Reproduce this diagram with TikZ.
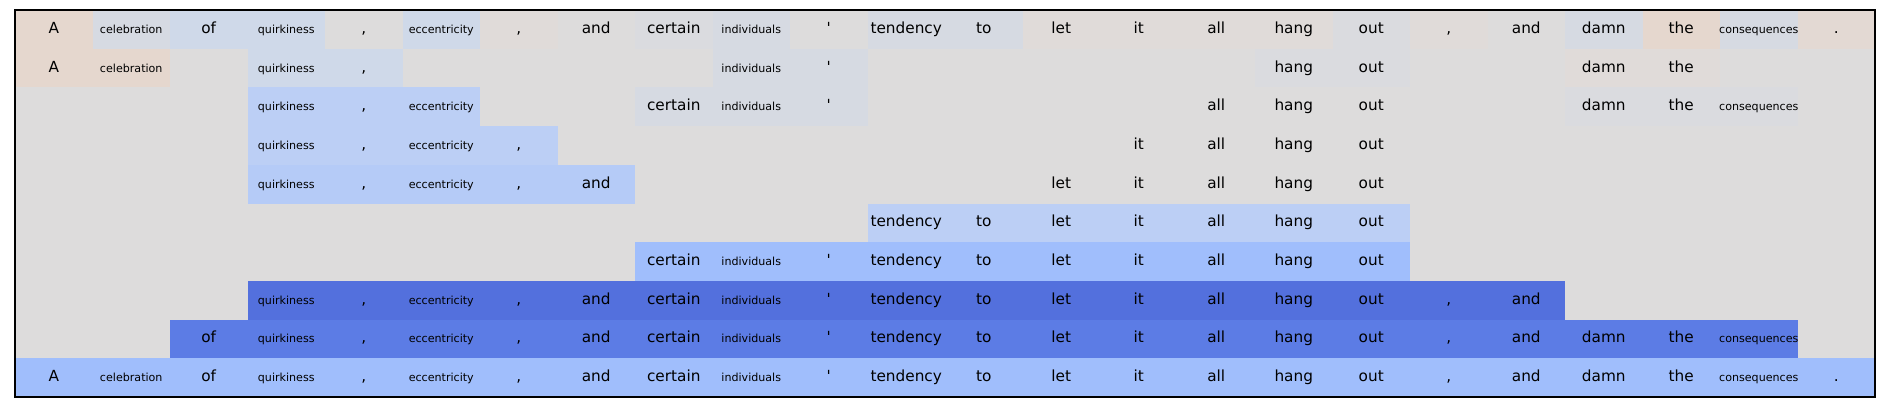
\documentclass[tikz,border=0pt]{standalone}
\usepackage{fontspec}
\usepackage{xcolor}
\newfontfamily\wordfont{DejaVu Sans}[Ligatures=TeXOff]
\definecolor{warmA}{RGB}{229,215,206}
\definecolor{warmB}{RGB}{227,217,211}
\definecolor{warmC}{RGB}{224,219,217}
\definecolor{neutral}{RGB}{221,220,220}
\definecolor{coolA}{RGB}{218,219,223}
\definecolor{coolB}{RGB}{214,218,226}
\definecolor{coolC}{RGB}{207,217,233}
\definecolor{coolD}{RGB}{188,207,245}
\definecolor{coolE}{RGB}{181,203,247}
\definecolor{coolF}{RGB}{160,190,252}
\definecolor{deepA}{RGB}{92,124,229}
\definecolor{deepB}{RGB}{83,112,221}
\newcommand\sm{\fontsize{11.1bp}{13bp}\selectfont}
\newcommand\tok[1]{\ifcase#1 A\or{\sm celebration}\or of\or{\sm quirkiness}\or,\or{\sm eccentricity}\or,\or and\or certain\or{\sm individuals}\or'\or tendency\or to\or let\or it\or all\or hang\or out\or,\or and\or damn\or the\or{\sm consequences}\or.\fi}
\tikzset{word/.style={font=\wordfont\fontsize{15.3bp}{18bp}\selectfont, inner sep=0pt, text height=11.6bp, text depth=3.6bp}}

\begin{document}
\begin{tikzpicture}[x=77.5bp, y=-38.7bp]
\useasboundingbox (-0.19355,-0.2584) rectangle (24.1161,10.3876);
\def\grid{(0,0) rectangle (24,10)}

\fill[neutral] \grid;
\foreach \r/\a/\b/\col in {0/0/0/warmA, 0/1/1/coolB, 0/2/3/coolC, 0/5/5/coolC, 0/6/6/warmC,
  0/8/8/coolA, 0/9/9/coolB, 0/11/12/coolB, 0/13/16/warmC, 0/17/17/coolA, 0/18/18/warmC,
  0/20/20/coolB, 0/21/21/warmA, 0/22/22/coolB, 0/23/23/warmB,
  1/0/1/warmA, 1/3/4/coolC, 1/9/10/coolB, 1/16/17/coolA, 1/20/21/warmC,
  2/3/5/coolD, 2/8/10/coolB, 2/20/22/coolA, 3/3/6/coolD, 4/3/7/coolE, 5/11/17/coolD,
  6/8/17/coolF, 7/3/19/deepB, 8/2/22/deepA, 9/0/23/coolF}
  \fill[\col] (\a,\r) rectangle (\b+1,\r+1);

\foreach \r/\cols in {0/{0,...,23}, 1/{0,1,3,4,9,10,16,17,20,21},
  2/{3,4,5,8,9,10,15,16,17,20,21,22}, 3/{3,4,5,6,14,15,16,17},
  4/{3,4,5,6,7,13,14,15,16,17}, 5/{11,...,17}, 6/{8,...,17},
  7/{3,...,19}, 8/{2,...,22}, 9/{0,...,23}}
  \foreach \c in \cols
    \node[word] (w-\r-\c) at (\c+0.5,\r+0.5) {\tok{\c}};

\draw[line width=1.2bp] \grid;
\end{tikzpicture}
\end{document}
